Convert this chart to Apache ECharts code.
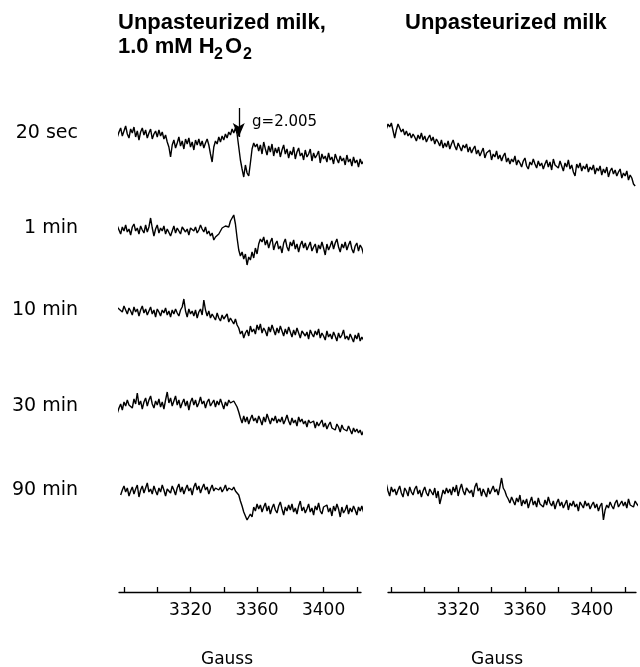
<!DOCTYPE html>
<html>
<head>
<meta charset="utf-8">
<script src="https://cdn.jsdelivr.net/npm/echarts@6/dist/echarts.min.js"></script>
<style>
  html, body { margin: 0; padding: 0; background: #fff; }
  #epr { width: 640px; height: 667px; }
</style>
</head>
<body>
<div id="epr"></div>
<script>
// field sweep (Gauss), sampled every 1 G
const fieldStep = 1;
const rowLabels = ["20 sec", "1 min", "10 min", "30 min", "90 min"];
const tickValues = [3280, 3300, 3320, 3340, 3360, 3380, 3400, 3420];
const labelValues = [3320, 3360, 3400];
const gMarker = { field: 3349, text: "g=2.005" };

// left column: unpasteurized milk + 1.0 mM H2O2 (signal, arbitrary units)
const h2o2Start = [3274, 3274, 3274, 3276, 3278];
const h2o2_20s = [
  0, 5, -2, 3, 7, -1, 4, 9, 1, -3, 6, 2, 8, -2, 4, -5, 3, 7, 0, 5,
  -3, 2, 6, -4, 1, 4, -2, 5, -1, 3, -4, 0,
  -7, -12, -22, -10, -5, -13, -8, -2, -11, -6, -14, -4, -9, -3, -12, -7, -15, -5, -10, -4,
  -11, -6, -13, -8, -4, -10, -19, -27, -12, -6, -9, -2, -7, -1, -5, 1, -3,
  3, 0, 6, 2, 7,
  1, -12, -25, -34, -42, -30, -38, -41,
  -28, -14, -8, -12, -9,
  -16, -10, -19, -7, -14, -20, -11, -17, -9, -21, -13, -18, -12, -22, -15, -10, -19, -14, -23, -16,
  -20, -12, -24, -17, -13, -21, -18, -25, -15, -22, -19, -14, -26, -18, -23, -20, -16, -28, -19, -24,
  -21, -27, -18, -25, -22, -29, -19, -24, -28, -21, -26, -23, -30, -20, -27, -24, -31, -22, -28, -25,
  -32, -24, -29, -26, -34, -27, -40, -35];
const h2o2_1m = [
  2, -3, 4, 0, -4, 3, -1, 5, -2, 1, -5, 3, 6, -1, 2, -4, 4, 0, -3, 5,
  -2, 3, 12, 2, -6, 1, 5, -3, 2, -1, 4, -4, 1, 3, -6, -1, 4, -3, 2, 0,
  -4, 3, 5, -2, 1, -5, 2, 4, -1, 3, -3, 0, 5, 1, -2, 3, -4, -1, -6, -3,
  -10, -7, -9, -4, -2, 2, 0, 4, 6, 3, 9, 12, 15,
  6, -8, -20, -26, -22, -29, -24, -35, -27, -30, -22, -28, -18, -24, -14, -9, -12, -7,
  -15, -10, -18, -12, -8, -20, -14, -11, -19, -16, -23, -13, -9, -17, -21, -12, -16, -10, -19, -14,
  -22, -15, -11, -18, -13, -20, -16, -12, -21, -17, -14, -23, -15, -19, -12, -18, -25, -14, -20, -16,
  -11, -19, -13, -9, -17, -22, -14, -18, -12, -20, -15, -11, -19, -23, -16, -13, -21, -15, -18, -24,
  -14, -19, -12, -18];
const h2o2_10m = [
  10, 6, 8, 3, 5, 0, 6, 2, -2, 4, 1, -3, 5, 0, 3, -4, 2, 6, -1, 3,
  -3, 1, 5, -2, 2, -5, 3, 0, -4, 2, -1, 4, -3, 1, -5, 2, -2, 3, -1, -4,
  2, 5, 13, 1, -5, 3, -2, 1, -4, 2, -6, 0, 3, -3, 12, 2, -4, 1, -6, -2,
  -3, -8, -1, -6, -9, -3, -7, -5, -2, -10, -6, -8, -12, -7, -13,
  -16, -22, -19, -26, -21, -18, -24,
  -14, -20, -17, -22, -13, -18, -12, -21, -16, -19, -24, -15, -20, -13, -18, -23, -16, -21, -14, -19,
  -24, -17, -22, -15, -20, -25, -18, -23, -16, -21, -26, -19, -17, -24, -20, -27, -18, -22, -25, -19,
  -23, -17, -26, -21, -24, -28, -19, -25, -22, -27, -20, -24, -29, -21, -26, -23, -18, -27, -24, -28,
  -22, -26, -30, -23, -27, -21, -29, -25, -28, -24, -31, -27, -33];
const h2o2_30m = [
  -5, 0, 4, -2, 6, 2, 8, 3, 5, 0, 9, 4, 15, 3, 7, -1, 6, 10, 2, 8,
  12, 4, 0, 7, 3, 9, 1, 6, -1, 8, 16, 5, 10, 2, 7, 12, 3, 8, 0, 5,
  9, 2, 7, -2, 6, 10, 3, 8, 1, 5, 11, 4, 7, 0, 6, 9, 2, 5, 8, 1,
  7, 3, 9, 4, -1, 6, 2, 8, 5, 3, 7, 4, 1,
  -4, -10, -15, -8,
  -14, -9, -16, -11, -7, -13, -10, -15, -8, -12, -17, -9, -14, -6, -11, -16, -10, -13, -8, -15,
  -11, -14, -9, -16, -12, -7, -13, -17, -10, -15, -12, -18, -9, -14, -11, -16, -13, -19, -12, -15,
  -17, -13, -20, -14, -18, -16, -12, -19, -15, -21, -17, -14, -20, -18, -22, -16, -19, -24, -17, -21,
  -19, -23, -18, -22, -26, -20, -24, -21, -25, -22, -27, -23, -26, -29, -25, -32];
const h2o2_90m = [
  -3, 2, 6, 0, 4, -4, 1, 5, -2, 3, 7, -5, 2, 6, -1, 4, 9, 0, 3, -2,
  6, 1, -3, 4, 0, 7, 2, -4, 3, 5, -1, 6, 2, -3, 4, 8, 0, 5, -2, 3,
  7, 1, 4, -3, 5, 9, 2, 6, -1, 4, 8, 2, 5, -2, 3, 7, 1, 4, 6, 2,
  5, 0, 3, 7, 1, 4, 6, 2, 5, 1, 3,
  -3, -9, -14, -20, -24, -28, -26, -22, -25, -15, -19, -12, -17, -13,
  -20, -15, -11, -19, -14, -22, -16, -12, -18, -21, -14, -10, -17, -23, -15, -19, -13, -18, -12, -20,
  -16, -22, -14, -9, -19, -15, -21, -17, -12, -20, -16, -23, -14, -18, -11, -19, -22, -15, -17, -13,
  -20, -16, -24, -14, -19, -12, -17, -25, -15, -21, -18, -13, -22, -16, -20, -14, -18, -23, -15, -19,
  -14, -20, -16, -21, -15, -19];

// right column: unpasteurized milk alone
const milkStart = [3272, 3276];
const milk_20s = [
  16, 20, 22, 19, 24, 21, 26, 23, 27, 25, 12, 20, 26, 22, 18, 21, 15, 19, 14, 17,
  12, 16, 13, 9, 15, 11, 17, 10, 14, 8, 12, 15, 9, 13, 6, 11, 8, 4, 10, 2,
  7, 3, 9, 1, 6, 10, 4, 0, 7, 3, -1, 5, 2, 6, -2, 3, -3, 1, 4, -4,
  0, -6, -2, 2, -8, -3, -5, 0, -10, -4, -7, -1, -9, -5, -11, -6, -3, -12, -8, -14,
  -9, -12, -6, -15, -10, -13, -17, -11, -8, -16, -19, -12, -15, -9, -14, -18, -11, -16, -13, -19,
  -14, -10, -17, -12, -20, -9, -15, -13, -18, -11, -16, -21, -13, -17, -10, -19, -15, -22, -26, -14,
  -18, -13, -21, -16, -19, -14, -22, -17, -20, -15, -24, -18, -21, -16, -25, -19, -23, -17, -27, -21,
  -18, -24, -20, -26, -22, -19, -28, -23, -26, -21, -30, -25, -28, -34, -36];
const milk_90m = [
  5, 9, 2, -3, 6, 1, 4, -2, 3, 7, 0, -4, 5, 2, -3, 6, 1, -2, 4, 7,
  -1, 3, -4, 2, 6, 0, -3, 4, 1, -2, 5, -5, 2, -11, -4, 3, -1, 5, 0, 4,
  -2, 6, 1, 8, -3, 4, 9, 2, -2, 5, 7, 0, 3, -4, 6, 10, 2, 5, -3, 4,
  0, -4, 5, -1, 3, 7, 1, 4, -2, 6, 15, 5, 2, -3,
  -6, -10, -4, -8, -12, -5, -9, -2, -13, -7, -11, -6, -15, -9, -4, -12, -8, -14, -5, -11,
  -9, -14, -7, -12, -4, -10, -13, -8, -16, -10, -6, -13, -9, -15, -11, -7, -17, -10, -13, -8,
  -14, -11, -18, -9, -12, -15, -8, -13, -10, -16, -12, -9, -15, -11, -18, -13, -10, -27, -17, -12,
  -15, -9, -13, -16, -10, -7, -14, -11, -8, -13, -9, -15, -6, -12, -10, -14, -8, -11, -13];

// layout: vertical level of each trace inside the 0..500 y range
const leftLevels = [457, 362, 280, 184, 100];
const rightLevels = [442, 99];

const font = "DejaVu Sans";
const bold = "bold 22px 'Liberation Sans'";
const chart = echarts.init(document.getElementById("epr"));

function toPoints(values, start, level) {
  return values.map((v, i) => [start + i * fieldStep, level + v]);
}

function trace(name, values, start, level, axis) {
  return {
    name: name,
    type: "line",
    xAxisIndex: axis,
    yAxisIndex: axis,
    data: toPoints(values, start, level),
    symbol: "none",
    clip: false,
    silent: true,
    lineStyle: { color: "#000", width: 1.4 }
  };
}

function fieldAxis(grid, min, max) {
  return {
    type: "value",
    gridIndex: grid,
    min: min,
    max: max,
    splitLine: { show: false },
    axisLine: { lineStyle: { color: "#000", width: 1.3 } },
    axisTick: { customValues: tickValues, inside: true, length: 5, lineStyle: { color: "#000", width: 1.3 } },
    axisLabel: {
      customValues: labelValues,
      formatter: v => String(v),
      color: "#000",
      fontSize: 17,
      fontFamily: font,
      margin: 10
    }
  };
}

const leftSeries = [h2o2_20s, h2o2_1m, h2o2_10m, h2o2_30m, h2o2_90m];

const series = leftSeries.map((vals, i) => trace("h2o2 " + rowLabels[i], vals, h2o2Start[i], leftLevels[i], 0));
series[0].markLine = {
  silent: true,
  symbol: ["none", "arrow"],
  symbolSize: [9, 14],
  label: { show: false },
  lineStyle: { color: "#000", width: 1.3, type: "solid" },
  data: [[{ coord: [gMarker.field, leftLevels[0] + 27] }, { coord: [gMarker.field, leftLevels[0] - 2] }]]
};
series[0].markPoint = {
  silent: true,
  symbolSize: 0,
  label: { show: true, position: "right", distance: 0, formatter: gMarker.text, color: "#000", fontSize: 15, fontFamily: font },
  data: [{ coord: [gMarker.field + 8, leftLevels[0] + 13] }]
};
series.push(trace("milk 20 sec", milk_20s, milkStart[0], rightLevels[0], 1));
series.push(trace("milk 90 min", milk_90m, milkStart[1], rightLevels[1], 1));

const graphics = rowLabels.map((t, i) => ({
  type: "text",
  right: 640 - 78,
  top: 592 - leftLevels[i] - 11,
  style: { text: t, fill: "#000", font: "19px '" + font + "'" }
}));
graphics.push(
  { type: "text", left: 118, top: 12, style: { text: "Unpasteurized milk,", fill: "#000", font: bold } },
  { type: "text", left: 118, top: 36, style: { text: "1.0 mM H", fill: "#000", font: bold } },
  { type: "text", left: 214, top: 47, style: { text: "2", fill: "#000", font: "bold 16px 'Liberation Sans'" } },
  { type: "text", left: 225, top: 36, style: { text: "O", fill: "#000", font: bold } },
  { type: "text", left: 243, top: 47, style: { text: "2", fill: "#000", font: "bold 16px 'Liberation Sans'" } },
  { type: "text", left: 405, top: 12, style: { text: "Unpasteurized milk", fill: "#000", font: bold } },
  { type: "text", left: 201, top: 651, style: { text: "Gauss", fill: "#000", font: "17px '" + font + "'" } },
  { type: "text", left: 471, top: 651, style: { text: "Gauss", fill: "#000", font: "17px '" + font + "'" } }
);

chart.setOption({
  animation: false,
  backgroundColor: "#fff",
  grid: [
    { left: 119, width: 242, top: 92, bottom: 75 },
    { left: 388, width: 248, top: 92, bottom: 75 }
  ],
  xAxis: [fieldAxis(0, 3277, 3422.5), fieldAxis(1, 3278, 3426.5)],
  yAxis: [
    { type: "value", gridIndex: 0, min: 0, max: 500, show: false },
    { type: "value", gridIndex: 1, min: 0, max: 500, show: false }
  ],
  graphic: graphics,
  series: series
});
</script>
</body>
</html>
